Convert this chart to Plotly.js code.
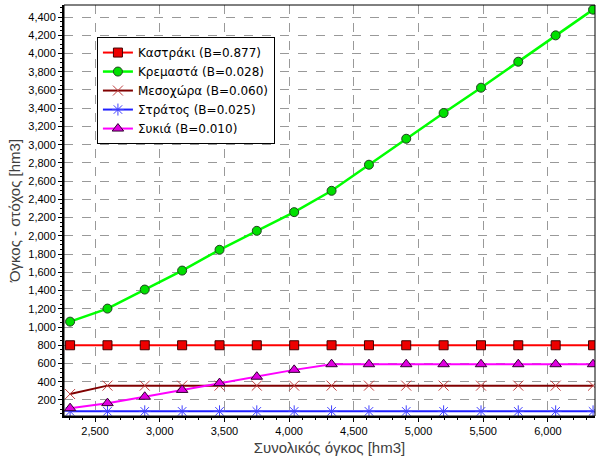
<!DOCTYPE html>
<html>
<head>
<meta charset="utf-8">
<script src="https://cdn.plot.ly/plotly-3.0.1.min.js"></script>
<style>html,body{margin:0;padding:0;background:#fff;}#chart{width:599px;height:459px;}</style>
</head>
<body>
<div id="chart"></div>
<script>
// Total volume (x) [hm3]
const totalVolume = [2307, 2596, 2884, 3173, 3462, 3750, 4039, 4328, 4617, 4905, 5194, 5483, 5771, 6060, 6349];
// Target volume per reservoir [hm3]
const kastraki  = [800, 800, 800, 800, 800, 800, 800, 800, 800, 800, 800, 800, 800, 800, 800];
const kremasta  = [1059, 1202, 1411, 1619, 1847, 2055, 2260, 2494, 2780, 3065, 3347, 3625, 3910, 4199, 4481];
const mesochora = [265, 357, 357, 357, 357, 357, 357, 357, 357, 357, 357, 357, 357, 357, 357];
const stratos   = [75, 75, 75, 75, 75, 75, 75, 75, 75, 75, 75, 75, 75, 75, 75];
const sikia     = [110, 165, 235, 310, 385, 455, 530, 592, 592, 592, 592, 592, 592, 592, 592];
const seriesNames = ["Καστράκι (B=0.877)", "Κρεμαστά (B=0.028)", "Μεσοχώρα (B=0.060)", "Στράτος (B=0.025)", "Συκιά (B=0.010)"];
const xTitle = "Συνολικός όγκος [hm3]";
const yTitle = "Όγκος - στόχος [hm3]";

const traces = [
  {x: totalVolume, y: kastraki, name: seriesNames[0], mode: 'lines+markers',
   line: {color: '#ff0000', width: 2},
   marker: {symbol: 'square', size: 9, color: '#ee0000', line: {color: '#400000', width: 1}}},
  {x: totalVolume, y: kremasta, name: seriesNames[1], mode: 'lines+markers',
   line: {color: '#00ff00', width: 2.5},
   marker: {symbol: 'circle', size: 9, color: '#00e000', line: {color: '#204020', width: 1}}},
  {x: totalVolume, y: mesochora, name: seriesNames[2], mode: 'lines+markers',
   line: {color: '#800000', width: 2},
   marker: {symbol: 'x-thin-open', size: 10, color: '#c04040', line: {color: '#c04040', width: 1}}},
  {x: totalVolume, y: stratos, name: seriesNames[3], mode: 'lines+markers',
   line: {color: '#2020ff', width: 2},
   marker: {symbol: 'asterisk-open', size: 10, color: '#4040ff', line: {color: '#4040ff', width: 1}}},
  {x: totalVolume, y: sikia, name: seriesNames[4], mode: 'lines+markers',
   line: {color: '#ff00ff', width: 2},
   marker: {symbol: 'triangle-up', size: 10, color: '#e000e0', line: {color: '#300030', width: 1}}}
];

const fontFam = '"Liberation Sans", Arial, sans-serif';
const layout = {
  width: 599, height: 459,
  margin: {l: 64, r: 4, t: 5, b: 43},
  paper_bgcolor: '#ffffff', plot_bgcolor: '#ffffff',
  font: {family: fontFam, size: 11, color: '#000'},
  showlegend: true,
  legend: {x: 0.062, y: 0.922, xanchor: 'left', yanchor: 'top',
    bgcolor: '#ffffff', bordercolor: '#000000', borderwidth: 1,
    font: {family: '"DejaVu Sans", sans-serif', size: 12, color: '#000'}, tracegroupgap: 0, itemwidth: 30},
  xaxis: {
    range: [2260, 6364], dtick: 500, tick0: 0, tickformat: ',d',
    showgrid: true, gridcolor: '#999999', griddash: 'dash', gridwidth: 1,
    zeroline: false, showline: true, linecolor: '#000', linewidth: 2,
    ticks: 'outside', ticklen: 4, tickcolor: '#000',
    minor: {dtick: 100, ticklen: 2, tickcolor: '#000', showgrid: false},
    tickfont: {family: fontFam, size: 11, color: '#000'},
    title: {text: xTitle, font: {family: fontFam, size: 15, color: '#404040'}, standoff: 6}
  },
  yaxis: {
    range: [24, 4532], dtick: 200, tick0: 0, tickformat: ',d',
    showgrid: true, gridcolor: '#999999', griddash: 'dash', gridwidth: 1,
    zeroline: false, showline: true, linecolor: '#000', linewidth: 2,
    ticks: 'outside', ticklen: 4, tickcolor: '#000',
    minor: {dtick: 50, ticklen: 2, tickcolor: '#000', showgrid: false},
    tickfont: {family: fontFam, size: 11, color: '#000'},
    title: {text: yTitle, font: {family: fontFam, size: 15, color: '#404040'}, standoff: 4}
  },
  shapes: [{type: 'rect', xref: 'paper', yref: 'paper', x0: 0, x1: 1, y0: 0, y1: 1,
    line: {color: '#000', width: 1}, layer: 'above'}]
};
Plotly.newPlot('chart', traces, layout, {displayModeBar: false, staticPlot: true});
</script>
</body>
</html>
